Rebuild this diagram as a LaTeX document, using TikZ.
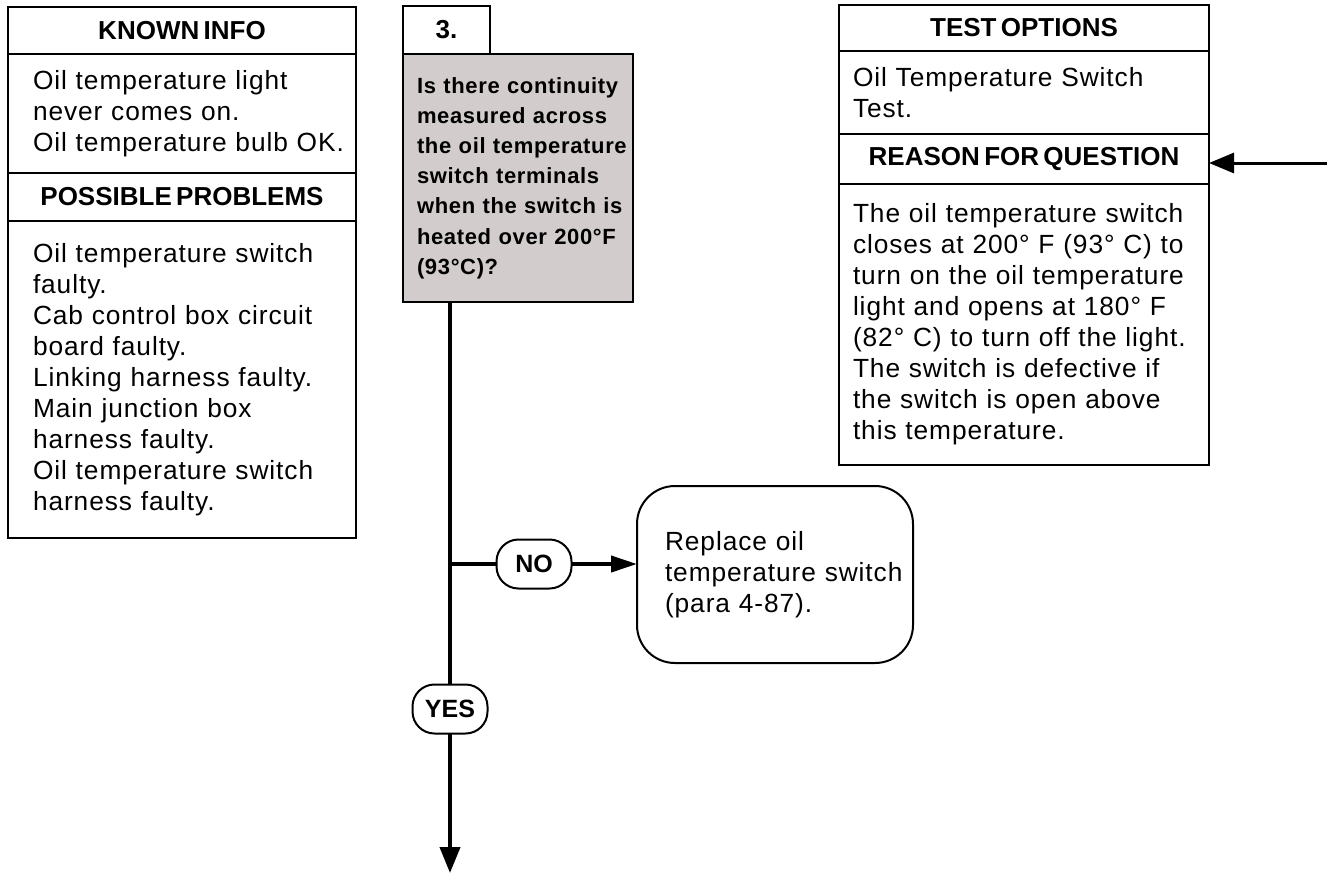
\documentclass[tikz,border=0pt]{standalone}
\usepackage{fontspec}
\setmainfont{Liberation Sans}
\newfontfamily\bodyfont{Liberation Sans}[LetterSpace=3.5]
\newfontfamily\headfont{Liberation Sans}[WordSpace=0.6]
\newfontfamily\askfont{Liberation Sans}[LetterSpace=3]
\usetikzlibrary{arrows.meta, positioning}
\definecolor{askgray}{RGB}{211,204,204}

\begin{document}
\begin{tikzpicture}[x=1pt,y=-1pt,
  head/.style={draw,line width=2pt,outer sep=0pt,inner sep=0pt,align=center,
    font=\headfont\bfseries\fontsize{26}{30}\selectfont},
  body/.style={draw,line width=2pt,outer sep=0pt,inner xsep=4pt,inner ysep=0pt,align=left,
    font=\bodyfont\fontsize{26.3}{31}\selectfont,execute at begin node={\leftskip=#1\hyphenpenalty=10000}},
  pill/.style={draw,line width=2pt,rounded corners=22pt,outer sep=0pt,inner sep=0pt,
    minimum width=75pt,minimum height=49pt,font=\headfont\bfseries\fontsize{25}{28}\selectfont},
  flow/.style={line width=4pt},
  tip/.style={-{Triangle[length=26pt,width=#1]}}]
  \useasboundingbox (0,0) rectangle (1327,873);
  % left column
  \node[head,anchor=north west,minimum width=348pt,minimum height=47pt] (known) at (8,7) {KNOWN INFO};
  \node[body=21pt,below=0pt of known,text width=340pt,minimum height=119pt] (knowntxt)
    {Oil temperature light\\never comes on.\\Oil temperature bulb OK.};
  \node[head,below=0pt of knowntxt,minimum width=348pt,minimum height=48pt] (probs) {POSSIBLE PROBLEMS};
  \node[body=21pt,below=0pt of probs,text width=340pt,minimum height=317pt] (probstxt)
    {Oil temperature switch\\faulty.\\Cab control box circuit\\board faulty.\\Linking harness faulty.\\
     Main junction box\\harness faulty.\\Oil temperature switch\\harness faulty.};
  % question
  \node[head,anchor=north west,minimum width=87pt,minimum height=48pt] (stepno) at (403,6) {3.};
  \node[body=11pt,fill=askgray,anchor=north west,inner xsep=3pt,text width=224pt,minimum height=248pt,
    font=\askfont\bfseries\fontsize{22}{30.2}\selectfont] (ask) at (stepno.south west)
    {Is there continuity\\measured across\\the oil temperature\\switch terminals\\when the switch is\\
     heated over 200°F\\(93°C)?};
  % right column
  \node[head,anchor=north west,minimum width=370pt,minimum height=46pt] (test) at (839,5) {TEST OPTIONS};
  \node[body=10pt,below=0pt of test,text width=362pt,minimum height=83pt] (testtxt)
    {Oil Temperature Switch\\Test.};
  \node[head,below=0pt of testtxt,minimum width=370pt,minimum height=50pt] (reason) {REASON FOR QUESTION};
  \node[body=10pt,below=0pt of reason,text width=362pt,minimum height=281pt] (reasontxt)
    {The oil temperature switch\\closes at 200° F (93° C) to\\turn on the oil temperature\\
     light and opens at 180° F\\(82° C) to turn off the light.\\The switch is defective if\\
     the switch is open above\\this temperature.};
  % answer
  \node[body=24pt,rounded corners=38pt,anchor=north west,text width=268pt,minimum height=177pt] (fix)
    at (637,486) {Replace oil\\temperature switch\\(para 4-87).};
  \node[pill] (no) at (534,564) {NO};
  \node[pill] (yes) at (450,709) {YES};
  % connectors
  \coordinate (qfoot) at ([xshift=47pt]ask.south west);
  \coordinate (jn) at (qfoot |- no.west);
  \coordinate (down) at (450,873);
  \coordinate (back) at (1327,163);
  \draw[flow] (qfoot) -- (yes.north);
  \draw[flow,tip=20pt] (yes.south) -- (down);
  \draw[flow] (jn) -- (no.west);
  \draw[flow,tip=16pt] (no.east) -- (no.east -| fix.west);
  \draw[line width=3pt,-{Triangle[length=25pt,width=20pt]}] (back) -- (back -| reason.east);
\end{tikzpicture}
\end{document}
